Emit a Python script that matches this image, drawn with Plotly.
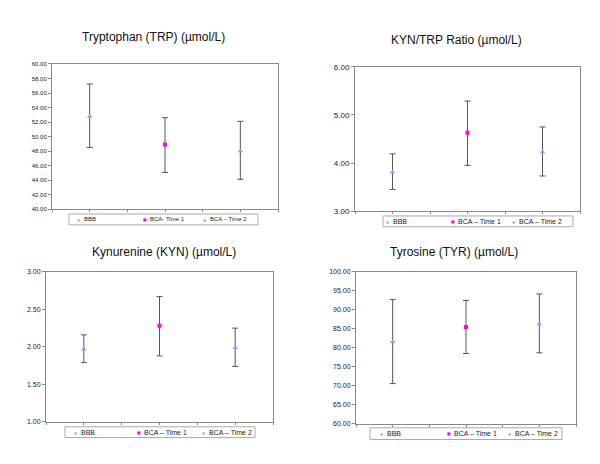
import plotly.graph_objects as go

categories = ["BBB", "BCA – Time 1", "BCA – Time 2"]

# mean, lower and upper whisker for each group
trp_mean = [52.75, 48.9, 48.0]
trp_low = [48.5, 45.05, 44.1]
trp_high = [57.25, 52.6, 52.1]

ratio_mean = [3.81, 4.63, 4.23]
ratio_low = [3.45, 3.95, 3.73]
ratio_high = [4.19, 5.29, 4.75]

kyn_mean = [1.97, 2.28, 1.99]
kyn_low = [1.79, 1.88, 1.74]
kyn_high = [2.16, 2.67, 2.25]

tyr_mean = [81.6, 85.5, 86.3]
tyr_low = [70.6, 78.5, 78.7]
tyr_high = [92.7, 92.5, 94.2]

FONT = "Liberation Sans, Arial, sans-serif"
LAVENDER = "#9999FF"
MAGENTA = "#FF00FF"
W, H = 600, 464

panels = [
    dict(title="Tryptophan (TRP) (µmol/L)", mean=trp_mean, low=trp_low, high=trp_high,
         yr=[40, 60], dt=2, box=(44, 270, 53, 201), tf=6,
         names=["BBB", "BCA- Time 1", "BCA – Time 2"], tx=145, ty=26,
         leg=(61, 250, 206, 217), mk=[71, 137, 197], lf=6),
    dict(title="KYN/TRP Ratio (µmol/L)", mean=ratio_mean, low=ratio_low, high=ratio_high,
         yr=[3, 6], dt=1, box=(347, 572, 56, 203), tf=8,
         names=categories, tx=448, ty=29,
         leg=(375, 565, 208, 219), mk=[380, 445, 506], lf=7),
    dict(title="Kynurenine (KYN) (µmol/L)", mean=kyn_mean, low=kyn_low, high=kyn_high,
         yr=[1, 3], dt=0.5, box=(38, 265, 265, 418), tf=7,
         names=categories, tx=156, ty=245,
         leg=(57, 247, 423, 434), mk=[68, 131, 196], lf=7),
    dict(title="Tyrosine (TYR) (µmol/L)", mean=tyr_mean, low=tyr_low, high=tyr_high,
         yr=[60, 100], dt=5, box=(348, 568, 265, 420), tf=7,
         names=categories, tx=446, ty=245,
         leg=(362, 554, 424, 436), mk=[374, 441, 502], lf=7),
]

styles = [
    dict(symbol="triangle-up", color=LAVENDER, size=5, glyph="▲", gs=4),
    dict(symbol="square", color=MAGENTA, size=4, glyph="■", gs=4),
    dict(symbol="triangle-up", color=LAVENDER, size=5, glyph="▲", gs=4),
]


def px_x(v):
    return v / W


def px_y(v):
    return 1 - v / H


fig = go.Figure()
layout = {}
annotations = []
shapes = []

for p_i, p in enumerate(panels):
    n = "" if p_i == 0 else str(p_i + 1)
    x0, x1, y0, y1 = p["box"]
    for i, cat in enumerate(categories):
        # categories sit at 0, 1, 2 so the axis can tick both centres and gaps
        fig.add_trace(go.Scatter(
            x=[i], y=[p["mean"][i]],
            mode="markers",
            name=p["names"][i],
            text=[cat], hoverinfo="text+y",
            showlegend=False,
            marker=dict(symbol=styles[i]["symbol"], color=styles[i]["color"],
                        size=styles[i]["size"], line=dict(width=0)),
            error_y=dict(type="data", symmetric=False,
                         array=[p["high"][i] - p["mean"][i]],
                         arrayminus=[p["mean"][i] - p["low"][i]],
                         color="#555555", thickness=1, width=3),
            xaxis="x" + n, yaxis="y" + n,
        ))
    layout["xaxis" + n] = dict(
        domain=[px_x(x0), px_x(x1)], anchor="y" + n,
        range=[-0.5, 2.5], tick0=-0.5, dtick=0.5,
        showticklabels=False, ticks="outside", ticklen=2,
        tickcolor="#888888", showline=True, linecolor="#888888", linewidth=1,
        mirror=True, showgrid=False, zeroline=False,
    )
    layout["yaxis" + n] = dict(
        domain=[px_y(y1), px_y(y0)], anchor="x" + n, range=p["yr"], dtick=p["dt"],
        tickformat=".2f", ticks="outside", ticklen=3, tickcolor="#888888",
        showline=True, linecolor="#888888", linewidth=1, mirror=True,
        showgrid=False, zeroline=False,
        tickfont=dict(family=FONT, size=p["tf"], color="#222222"),
    )
    annotations.append(dict(
        text=p["title"], x=px_x(p["tx"]), y=px_y(p["ty"]),
        xref="paper", yref="paper", showarrow=False,
        xanchor="center", yanchor="middle",
        font=dict(family=FONT, size=12, color="#111111"),
    ))

    # legend box drawn by hand so it stays as flat as in the original
    lx0, lx1, ly0, ly1 = p["leg"]
    shapes.append(dict(type="rect", xref="paper", yref="paper",
                       x0=px_x(lx0), x1=px_x(lx1), y0=px_y(ly1), y1=px_y(ly0),
                       line=dict(color="#AAAAAA", width=1), fillcolor="white"))
    ymid = px_y((ly0 + ly1) / 2)
    for i, name in enumerate(p["names"]):
        annotations.append(dict(
            text=styles[i]["glyph"], x=px_x(p["mk"][i]), y=ymid,
            xref="paper", yref="paper", showarrow=False,
            xanchor="center", yanchor="middle",
            font=dict(family="DejaVu Sans", size=styles[i]["gs"], color=styles[i]["color"]),
        ))
        annotations.append(dict(
            text=name, x=px_x(p["mk"][i] + 3), y=ymid,
            xref="paper", yref="paper", showarrow=False,
            xanchor="left", yanchor="middle",
            font=dict(family=FONT, size=p["lf"], color="#222222"),
        ))

fig.update_layout(
    width=W, height=H,
    margin=dict(l=0, r=0, t=0, b=0),
    paper_bgcolor="white", plot_bgcolor="white",
    showlegend=False, annotations=annotations, shapes=shapes,
    font=dict(family=FONT),
    **layout,
)

fig.write_html("out.html")
